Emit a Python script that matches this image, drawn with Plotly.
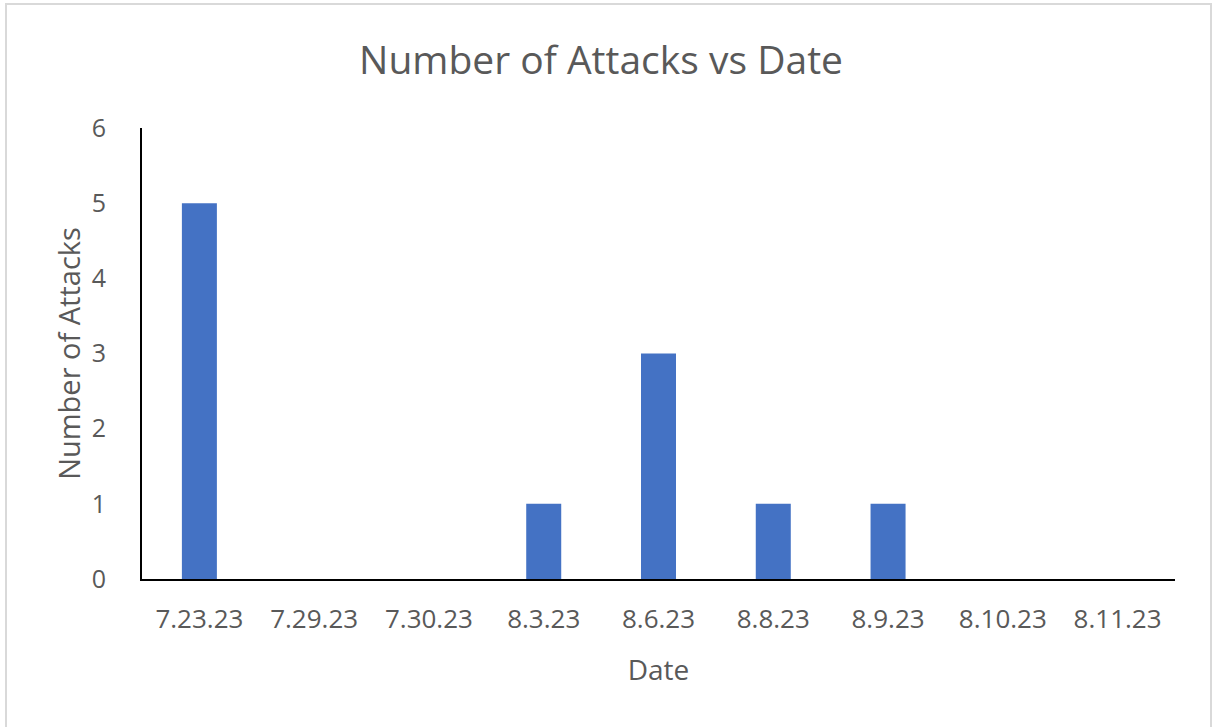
import plotly.graph_objects as go

dates = ["7.23.23", "7.29.23", "7.30.23", "8.3.23", "8.6.23", "8.8.23", "8.9.23", "8.10.23", "8.11.23"]
attacks = [5, 0, 0, 1, 3, 1, 1, 0, 0]

W, H = 1213, 727
L, R, T, B = 142, 38, 128, 148
pw, ph = W - L - R, H - T - B

FONT = "Open Sans"
GREY = "#595959"

fig = go.Figure(go.Bar(x=dates, y=attacks, marker=dict(color="#4472C4", line=dict(width=0)), width=0.305))

def px_x(x):
    return (x - L) / pw

def px_y(y):
    return (H - B - y) / ph

fig.update_layout(
    width=W, height=H,
    margin=dict(l=L, r=R, t=T, b=B),
    paper_bgcolor="white", plot_bgcolor="white",
    font=dict(family=FONT, color=GREY),
    showlegend=False,
    title=dict(text="Number of Attacks vs Date", x=601 / W, xref="container", xanchor="center",
               y=1 - 60 / H, yref="container", yanchor="middle",
               font=dict(size=39, color=GREY, family=FONT)),
    xaxis=dict(showline=True, linecolor="black", linewidth=2, ticks="", showgrid=False,
               tickfont=dict(size=26, color=GREY), ticklabelstandoff=16,
               title=dict(text="Date", font=dict(size=28, color=GREY), standoff=25),
               automargin=False),
    yaxis=dict(range=[0, 6], dtick=1, showline=True, linecolor="black", linewidth=2, ticks="",
               showgrid=False, zeroline=False, tickfont=dict(size=25, color=GREY),
               ticklabelstandoff=29,
               title=dict(text="Number of Attacks", font=dict(size=29, color=GREY), standoff=3),
               automargin=False),
    shapes=[dict(type="rect", xref="paper", yref="paper",
                 x0=px_x(6), x1=px_x(1211), y0=px_y(740), y1=px_y(4),
                 line=dict(color="#D9D9D9", width=2), fillcolor="rgba(0,0,0,0)", layer="below")],
)

fig.write_html("out.html")
